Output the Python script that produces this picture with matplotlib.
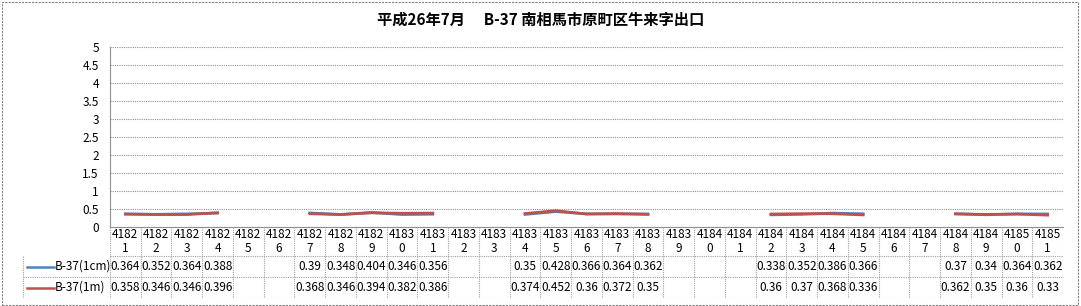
import numpy as np
import matplotlib.pyplot as plt
from matplotlib.patches import Rectangle

plt.rcParams['font.family'] = ['Noto Sans CJK JP', 'DejaVu Sans']

title = "平成26年7月　 B-37 南相馬市原町区牛来字出口"
dates = list(range(41821, 41852))
names = ["B-37(1cm)", "B-37(1m)"]
colors = ["#4F81BD", "#C0504D"]

s_1cm = [0.364, 0.352, 0.364, 0.388, None, None, 0.39, 0.348, 0.404, 0.346, 0.356,
         None, None, 0.35, 0.428, 0.366, 0.364, 0.362, None, None, None,
         0.338, 0.352, 0.386, 0.366, None, None, 0.37, 0.34, 0.364, 0.362]
s_1m = [0.358, 0.346, 0.346, 0.396, None, None, 0.368, 0.346, 0.394, 0.382, 0.386,
        None, None, 0.374, 0.452, 0.36, 0.372, 0.35, None, None, None,
        0.36, 0.37, 0.368, 0.336, None, None, 0.362, 0.35, 0.36, 0.33]
series = [s_1cm, s_1m]

W, H = 1081, 306
fig = plt.figure(figsize=(W / 100, H / 100), dpi=100)
fig.patches.append(Rectangle((0.002, 0.004), 0.995, 0.99, transform=fig.transFigure,
                             fill=False, ec="#808080", ls=(0, (2, 1)), lw=0.8))

x_left, x_right = 110, 1063
y_top, y_axis = 47, 227
ax = fig.add_axes([x_left / W, 1 - y_axis / H, (x_right - x_left) / W, (y_axis - y_top) / H])
n = len(dates)
x = np.arange(n)
for s, c in zip(series, colors):
    y = np.array([np.nan if v is None else v for v in s])
    ax.plot(x, y, color=c, lw=2)
ax.set_xlim(-0.5, n - 0.5)
ax.set_ylim(0, 5)
ax.set_yticks(np.arange(0, 5.01, 0.5))
ax.set_yticklabels([f"{v:g}" for v in np.arange(0, 5.01, 0.5)], fontsize=8.5)
ax.set_xticks([])
ax.tick_params(axis="y", length=0, pad=8)
ax.grid(axis="y", color="#909090", ls=(0, (1, 1)), lw=0.8)
for sp in ["top", "right"]:
    ax.spines[sp].set_visible(False)
ax.spines["left"].set_color("#909090")
ax.spines["bottom"].set_color("#909090")
ax.set_axisbelow(True)

fig.text(0.5, 1 - 20 / H, title, ha="center", va="center", fontsize=11, fontweight="bold")

# data table below the plot
t_left, t_bot = 23, 298
col_w = (x_right - x_left) / n
lab_cols = (x_left - t_left) / col_w
tab = fig.add_axes([t_left / W, 1 - t_bot / H, (x_right - t_left) / W, (t_bot - y_axis) / H])
tab.set_xlim(-0.5 - lab_cols, n - 0.5)
tab.set_ylim(t_bot - y_axis, 0)
tab.axis("off")
rows = [0, 29, 50, 71]
gc = "#A0A0A0"
gls = (0, (1, 1))
lx = -0.5 - lab_cols
for yv in rows[1:]:
    tab.plot([lx if yv > 29 else -0.5, n - 0.5], [yv, yv], color=gc, ls=gls, lw=0.8)
for i in range(n + 1):
    tab.plot([i - 0.5, i - 0.5], [0, 71], color=gc, ls=gls, lw=0.8)
tab.plot([lx, lx], [29, 71], color=gc, ls=gls, lw=0.8)
for i, d in enumerate(dates):
    s = str(d)
    tab.text(i, 14.5, s[:4] + "\n" + s[4:], ha="center", va="center", fontsize=8.5, linespacing=1.0)
for r, (nm, s, c) in enumerate(zip(names, series, colors)):
    yc = (rows[r + 1] + rows[r + 2]) / 2
    tab.plot([lx + 0.12, lx + 1.0], [yc, yc], color=c, lw=1.8)
    tab.text(lx + 1.02, yc, nm, ha="left", va="center", fontsize=8.5)
    for i, v in enumerate(s):
        if v is not None:
            tab.text(i, yc, f"{v:g}", ha="center", va="center", fontsize=8.5)

fig.savefig("out.png", dpi=100)
